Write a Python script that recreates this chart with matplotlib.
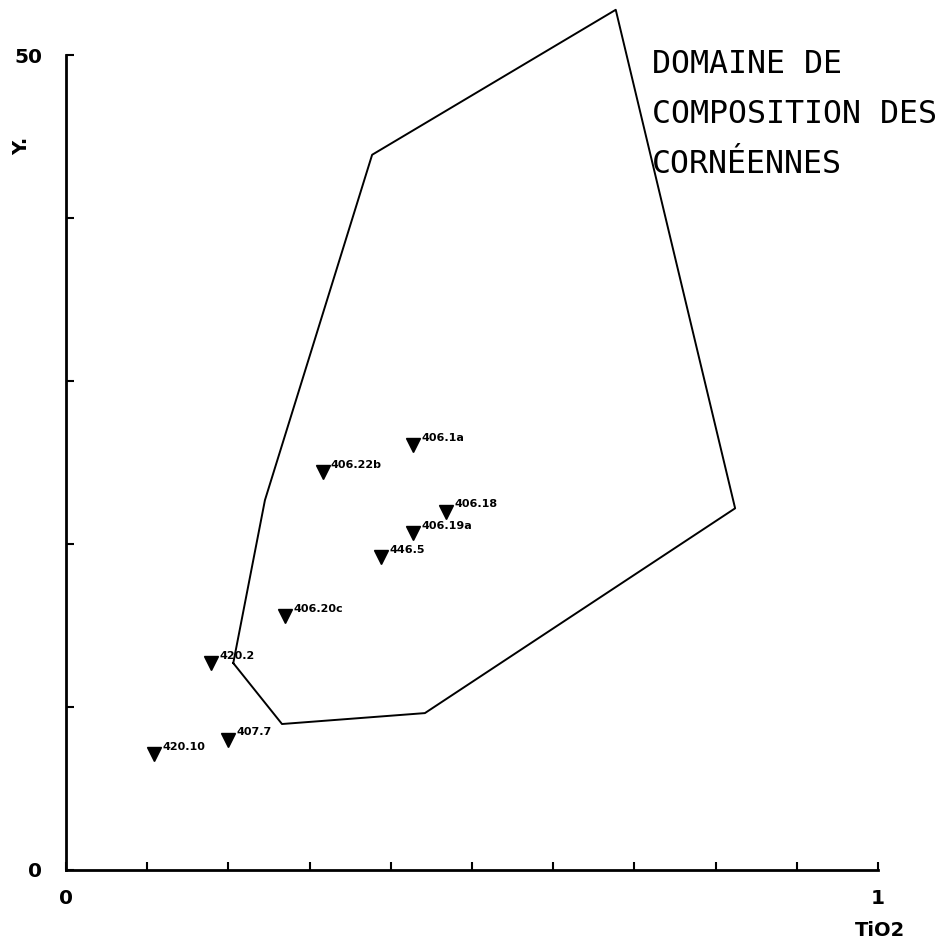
import matplotlib.pyplot as plt

# samples (TiO2 %, Y ppm)
sample_names = ['406.1a', '406.22b', '406.18', '406.19a', '446.5',
                '406.20c', '420.2', '407.7', '420.10']
tio2 = [0.427, 0.316, 0.468, 0.427, 0.388, 0.270, 0.179, 0.200, 0.108]
y_ppm = [26.1, 24.4, 22.0, 20.7, 19.2, 15.6, 12.7, 8.0, 7.1]

# outline of the hornfels composition field
field_x = [0.206, 0.266, 0.442, 0.824, 0.677, 0.377, 0.245, 0.206]
field_y = [12.7, 8.96, 9.63, 22.2, 52.8, 43.9, 22.7, 12.7]

fig = plt.figure(figsize=(9.48, 9.44), dpi=100)
ax = fig.add_axes([0.0696, 0.0784, 0.8566, 0.9216])

ax.plot(field_x, field_y, color='black', lw=1.4, clip_on=False)
ax.plot(tio2, y_ppm, linestyle='none', marker='v', markersize=10,
        color='black', clip_on=False)
for name, xv, yv in zip(sample_names, tio2, y_ppm):
    ax.annotate(name, (xv, yv), xytext=(6, 3), textcoords='offset points',
                fontsize=8, fontweight='bold', fontfamily='DejaVu Sans Condensed')

ax.text(0.722, 46.4, 'DOMAINE DE\nCOMPOSITION DES\nCORNÉENNES',
        fontfamily='DejaVu Sans Mono', fontsize=22.8, va='center', ha='left',
        linespacing=1.79, clip_on=False)

ax.set_xlim(0, 1)
ax.set_ylim(0, 53.4)
ax.spines['top'].set_visible(False)
ax.spines['right'].set_visible(False)
ax.spines['left'].set_bounds(0, 50)
ax.spines['left'].set_linewidth(2)
ax.spines['bottom'].set_linewidth(2)

ax.set_xticks([i / 10 for i in range(11)])
ax.set_xticklabels(['0'] + [''] * 9 + ['1'])
ax.set_yticks([0, 10, 20, 30, 40, 50])
ax.set_yticklabels(['0', '', '', '', '', '50'])
ax.tick_params(direction='in', length=6, width=1.5, labelsize=14.5)
ax.tick_params(axis='x', pad=14)
ax.tick_params(axis='y', pad=17)
for lbl in ax.get_xticklabels() + ax.get_yticklabels():
    lbl.set_fontweight('bold')

fig.text(0.928, 0.008, 'TiO2', fontsize=14, fontweight='bold', ha='center')
fig.text(0.023, 0.846, 'Y.', fontsize=14, fontweight='bold', rotation=90,
         ha='center', va='center')

fig.savefig('out.png', dpi=100)
